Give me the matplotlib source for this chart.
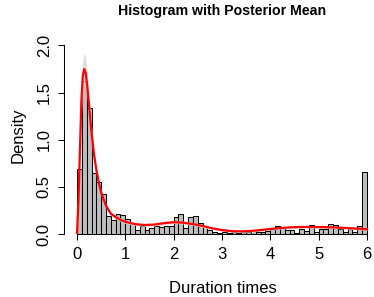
import matplotlib
matplotlib.use("Agg")
import matplotlib.pyplot as plt
import numpy as np

plt.rcParams['font.family'] = ['Liberation Sans', 'DejaVu Sans']

# histogram densities, bins of width 0.1 from 0 to 6
bin_edges = np.round(np.arange(0, 6.01, 0.1), 2)
dens = [0.69, 1.62, 1.34, 0.65, 0.55, 0.42, 0.19, 0.15, 0.21, 0.20,
        0.16, 0.12, 0.04, 0.08, 0.04, 0.06, 0.09, 0.07, 0.08, 0.09,
        0.18, 0.21, 0.06, 0.18, 0.19, 0.12, 0.08, 0.04, 0.02, 0.01,
        0.02, 0.01, 0.02, 0.01, 0.02, 0.02, 0.04, 0.02, 0.02, 0.03,
        0.05, 0.09, 0.07, 0.04, 0.04, 0.01, 0.05, 0.03, 0.10, 0.02,
        0.05, 0.05, 0.11, 0.10, 0.05, 0.02, 0.05, 0.02, 0.08, 0.66]

# posterior mean density and band
xs = [0, 0.03, 0.06, 0.09, 0.12, 0.15, 0.18, 0.21, 0.24, 0.27, 0.3, 0.35,
      0.4, 0.45, 0.5, 0.6, 0.7, 0.8, 0.9, 1.0, 1.2, 1.4, 1.6, 1.8, 2.0,
      2.2, 2.4, 2.6, 2.8, 3.0, 3.2, 3.4, 3.6, 3.8, 4.0, 4.2, 4.4, 4.6,
      4.8, 5.0, 5.2, 5.4, 5.6, 5.8, 6.0]
mean = [0.0, 0.35, 0.88, 1.40, 1.68, 1.75, 1.71, 1.58, 1.42, 1.25, 1.08, 0.85,
        0.68, 0.55, 0.44, 0.30, 0.215, 0.18, 0.15, 0.13, 0.105, 0.095, 0.10, 0.115, 0.125,
        0.12, 0.105, 0.085, 0.06, 0.042, 0.03, 0.028, 0.032, 0.042, 0.053, 0.063, 0.07, 0.074,
        0.075, 0.074, 0.072, 0.068, 0.063, 0.057, 0.05]
upper = [0.02, 0.42, 1.0, 1.58, 1.86, 1.92, 1.87, 1.72, 1.54, 1.35, 1.16, 0.91,
         0.72, 0.58, 0.47, 0.32, 0.235, 0.20, 0.17, 0.15, 0.12, 0.11, 0.115, 0.13, 0.14,
         0.135, 0.12, 0.10, 0.075, 0.055, 0.042, 0.04, 0.044, 0.054, 0.065, 0.075, 0.082, 0.086,
         0.087, 0.086, 0.084, 0.08, 0.075, 0.069, 0.062]
lower = [0.0, 0.28, 0.76, 1.24, 1.52, 1.60, 1.56, 1.45, 1.30, 1.15, 1.00, 0.79,
         0.64, 0.52, 0.41, 0.28, 0.195, 0.16, 0.13, 0.11, 0.09, 0.08, 0.085, 0.10, 0.11,
         0.105, 0.09, 0.07, 0.045, 0.03, 0.018, 0.016, 0.02, 0.03, 0.041, 0.051, 0.058, 0.062,
         0.063, 0.062, 0.06, 0.056, 0.051, 0.045, 0.038]

xticks = [0, 1, 2, 3, 4, 5, 6]
yticks = [0.0, 0.5, 1.0, 1.5, 2.0]

fig = plt.figure(figsize=(3.74, 2.97), dpi=100)
ax = fig.add_axes([64/374, 63/297, 310/374, 194/297])

ax.bar(bin_edges[:-1], dens, width=0.1, align='edge', color='#BEBEBE',
       edgecolor='black', linewidth=0.75, zorder=1)
ax.fill_between(xs, lower, upper, color='#DADADA', alpha=0.85, linewidth=0, zorder=2)
ax.plot(xs, mean, color='red', lw=1.6, zorder=3)

ax.set_xlim(-0.269, 6.145)
ax.set_ylim(0, 2.058)

for s in ['top', 'right']:
    ax.spines[s].set_visible(False)
ax.spines['left'].set_bounds(0, 2)
ax.spines['bottom'].set_bounds(0, 6)
ax.spines['left'].set_linewidth(0.75)
ax.spines['bottom'].set_linewidth(0.75)

ax.set_xticks(xticks)
ax.set_xticklabels([str(t) for t in xticks])
ax.set_yticks(yticks)
ax.set_yticklabels(['%.1f' % t for t in yticks], rotation=90, va='center')
ax.tick_params(axis='both', labelsize=12, length=4.3, width=0.75)
ax.tick_params(axis='x', pad=5)
ax.tick_params(axis='y', pad=4.5)

ax.set_xlabel('Duration times', fontsize=12, va='center')
ax.xaxis.set_label_coords(0.512, -0.28)
ax.set_ylabel('Density', fontsize=12, va='center')
ax.yaxis.set_label_coords(-0.148, 0.51)

fig.text(222/374, 1 - 10.5/297, 'Histogram with Posterior Mean', fontsize=10.2,
         fontweight='bold', ha='center', va='center')

fig.savefig('out.png', dpi=100)
